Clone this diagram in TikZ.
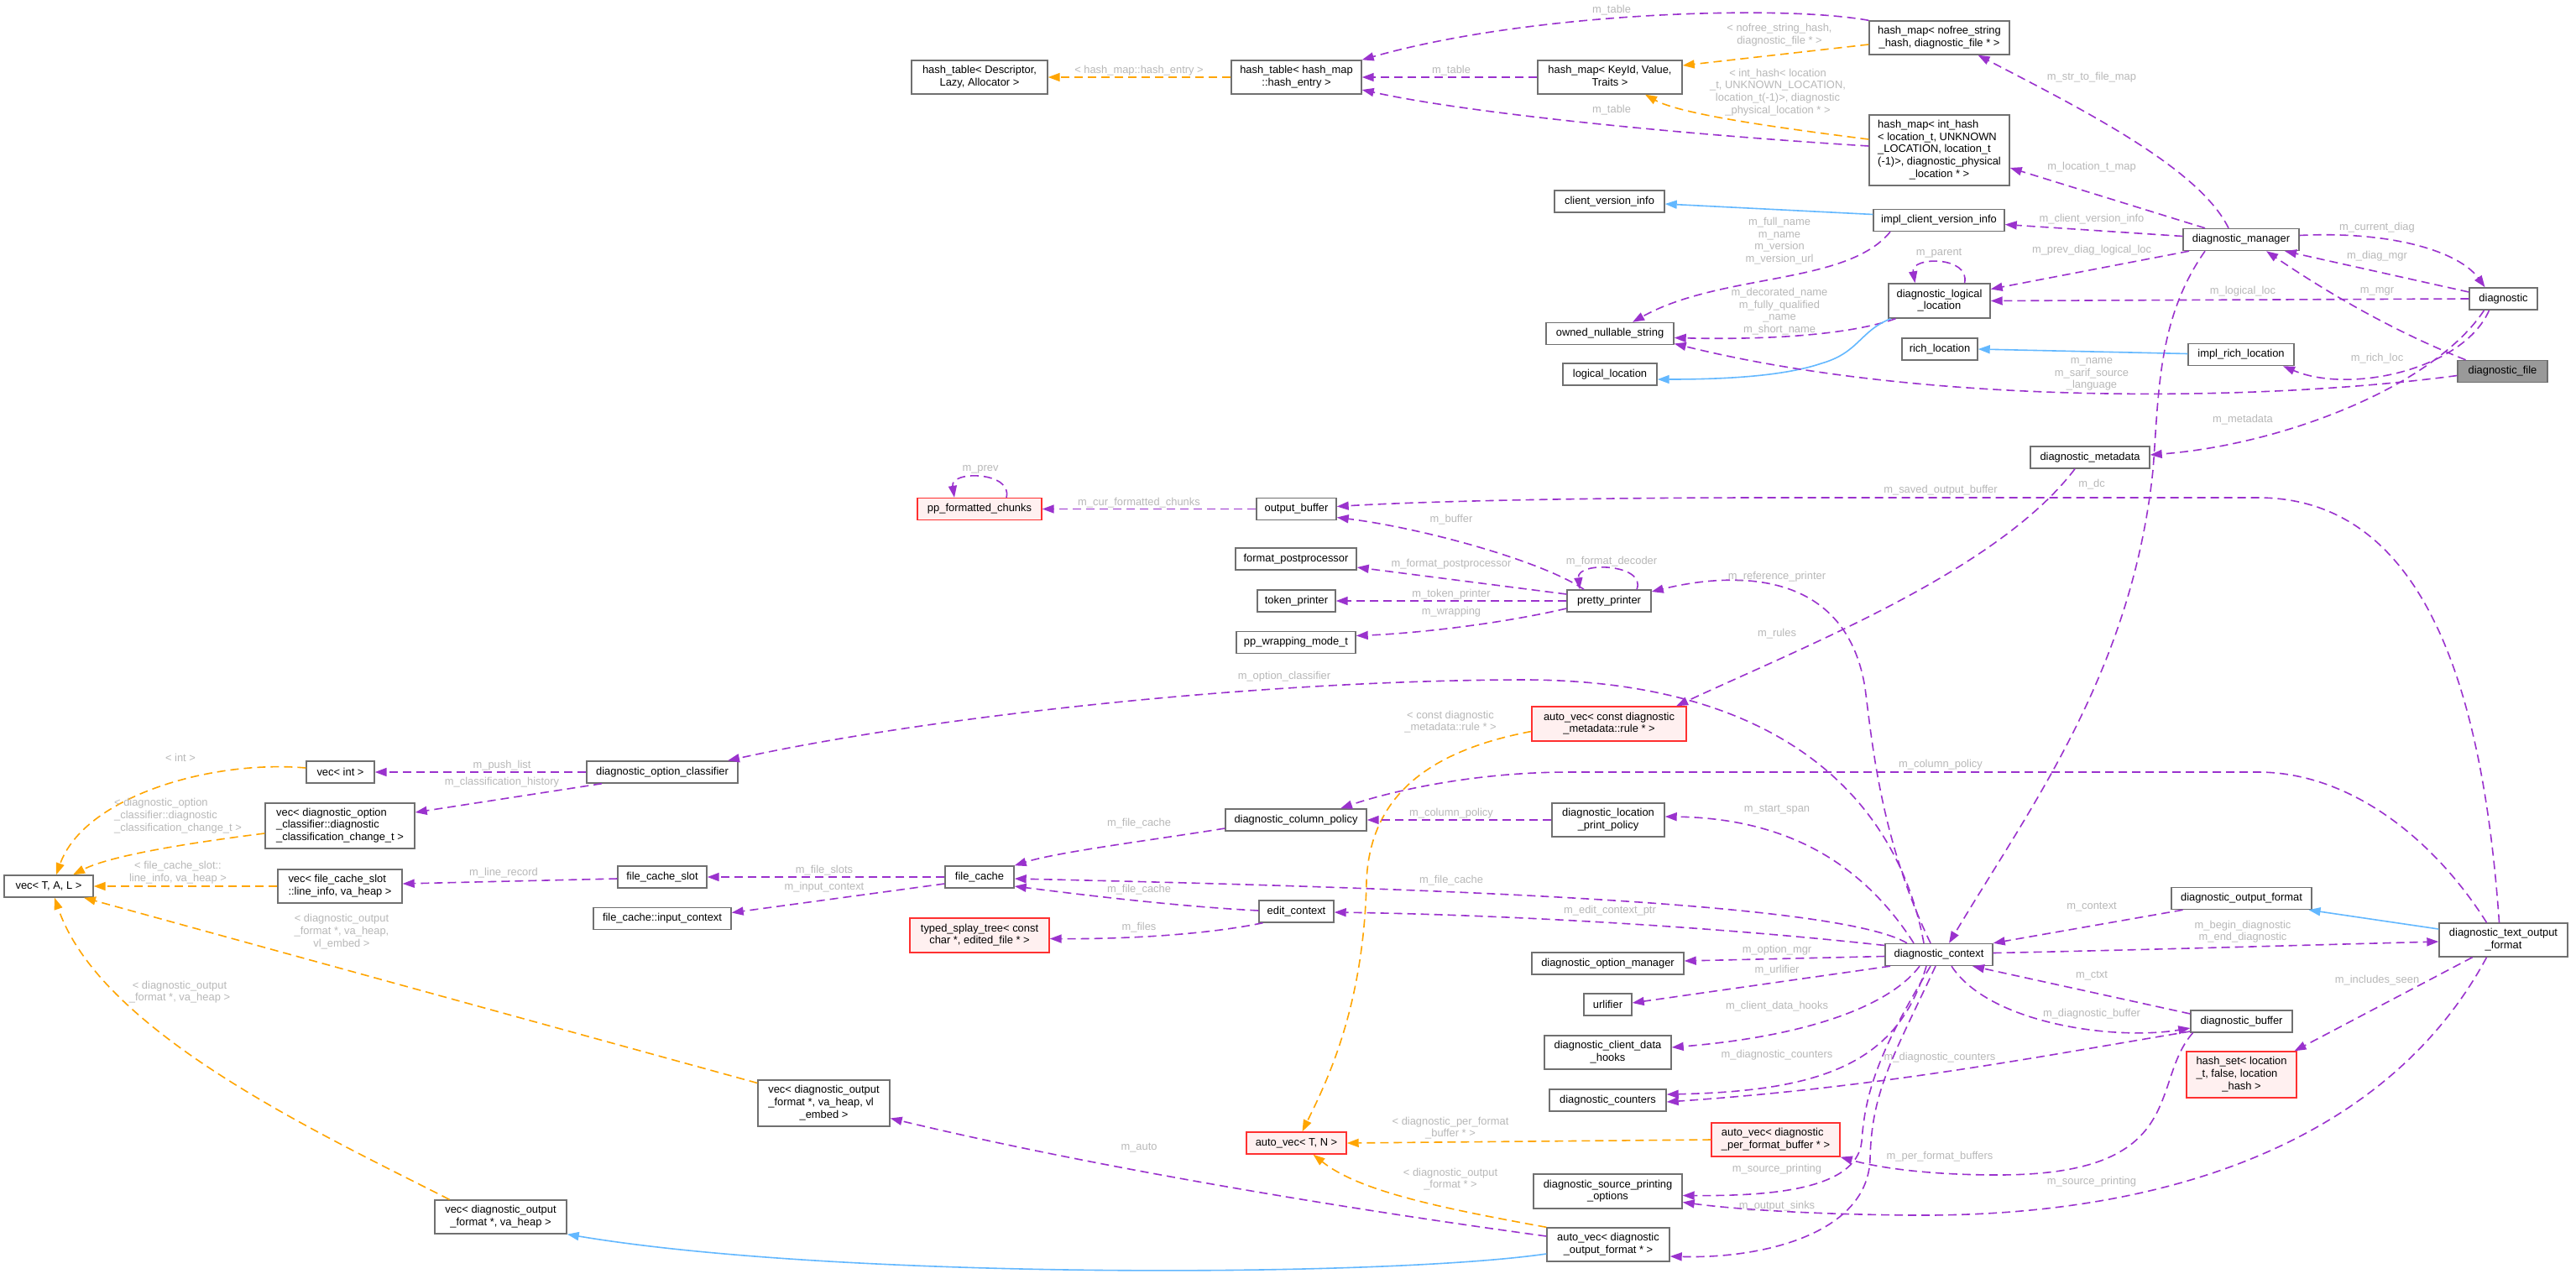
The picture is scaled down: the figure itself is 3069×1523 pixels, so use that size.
\documentclass[tikz,border=0pt]{standalone}
\usepackage{fontspec}
\setmainfont{Liberation Sans}
\usepackage{xcolor}
\usetikzlibrary{arrows.meta}
\definecolor{purp}{HTML}{9A32CD}
\definecolor{orng}{HTML}{FFA500}
\definecolor{inhblue}{HTML}{63B8FF}
\definecolor{labgray}{HTML}{B8B8B8}
\definecolor{nodegray}{HTML}{707070}
\definecolor{nodered}{HTML}{FF3030}
\definecolor{nodepink}{HTML}{FFF0F0}
\definecolor{curgray}{HTML}{999999}
\newcommand\dxfont{\fontsize{12.9}{14.7}\selectfont}
% all lines but the last left aligned, the last one centred
\newcommand\dxtwo[2]{\begin{tabular}{@{}l@{}}#1\\\multicolumn{1}{@{}c@{}}{#2}\end{tabular}}

\begin{document}
\begin{tikzpicture}[x=1pt,y=-1pt,
    cls/.style={draw=nodegray, fill=white, line width=1.4pt, inner sep=0pt, minimum height=26pt, font=\dxfont},
    redcls/.style={cls, draw=nodered, fill=nodepink},
    bw/.style={minimum width=#1pt},
    bh/.style={minimum height=#1pt},
    pe/.style={draw=purp, line width=1.6pt, dash pattern=on 10pt off 6pt, -{Triangle[length=14pt,width=10pt]}},
    oe/.style={pe, draw=orng},
    be/.style={draw=inhblue, line width=1.6pt, -{Triangle[length=14pt,width=10pt]}},
    lbl/.style={font=\dxfont, text=labgray, align=center, inner sep=0pt}]

    \fill[white] (0,0) rectangle (3069,1523);
    \useasboundingbox (0,0) rectangle (3069,1523);

    % Hash tables
    \node[cls, bw=162, bh=40] (htd) at (1167,92) {\dxtwo{hash\_table< Descriptor,}{Lazy, Allocator >}};
    \node[cls, bw=155, bh=40] (hte) at (1544.5,92) {\dxtwo{hash\_table< hash\_map}{::hash\_entry >}};
    \node[cls, bw=172, bh=40] (hmk) at (1918,92) {\dxtwo{hash\_map< KeyId, Value,}{Traits >}};
    \node[cls, bw=167, bh=40] (hmn) at (2310.5,45) {\dxtwo{hash\_map< nofree\_string}{\_hash, diagnostic\_file * >}};
    \node[cls, bw=167, bh=84] (hmi) at (2310.5,179) {\dxtwo{hash\_map< int\_hash\\< location\_t, UNKNOWN\\\_LOCATION, location\_t\\(-1)>, diagnostic\_physical}{\_location * >}};

    % Manager side
    \node[cls, bw=131] (cvi) at (1917.5,240) {client\_version\_info};
    \node[cls, bw=156] (icvi) at (2310,262.5) {impl\_client\_version\_info};
    \node[cls, bw=152] (ons) at (1918,397.5) {owned\_nullable\_string};
    \node[cls, bw=112] (ll) at (1918,446) {logical\_location};
    \node[cls, bw=121, bh=41] (dll) at (2310.5,358.5) {\dxtwo{diagnostic\_logical}{\_location}};
    \node[cls, bw=90] (rl) at (2311,416) {rich\_location};
    \node[cls, bw=138] (dm) at (2670,285.5) {diagnostic\_manager};
    \node[cls, bw=81] (dg) at (2982.5,356) {diagnostic};
    \node[cls, bw=126] (irl) at (2670,422.5) {impl\_rich\_location};
    \node[cls, bw=107, fill=curgray] (df) at (2981.5,442.5) {diagnostic\_file};
    \node[cls, bw=142] (dmeta) at (2490,545) {diagnostic\_metadata};

    % Pretty printer
    \node[redcls, bw=148] (pfc) at (1167,606.5) {pp\_formatted\_chunks};
    \node[cls, bw=95] (ob) at (1544.5,606.5) {output\_buffer};
    \node[cls, bw=144] (fpp) at (1544,666) {format\_postprocessor};
    \node[cls, bw=93] (tp) at (1544.5,716) {token\_printer};
    \node[cls, bw=142] (pwm) at (1544,765.5) {pp\_wrapping\_mode\_t};
    \node[cls, bw=100] (pp) at (1917,716) {pretty\_printer};
    \node[redcls, bw=184, bh=41] (avr) at (1917,862.5) {\dxtwo{auto\_vec< const diagnostic}{\_metadata::rule * >}};

    % Vectors and option classifier
    \node[cls, bw=180] (doc) at (789,920) {diagnostic\_option\_classifier};
    \node[cls, bw=81] (vi) at (405.5,920) {vec< int >};
    \node[cls, bw=178, bh=54] (vdoc) at (405,984) {\dxtwo{vec< diagnostic\_option\\\_classifier::diagnostic}{\_classification\_change\_t >}};
    \node[cls, bw=106] (vtal) at (58,1056) {vec< T, A, L >};

    % File cache
    \node[cls, bw=168] (dcp) at (1544,977) {diagnostic\_column\_policy};
    \node[cls, bw=134, bh=40] (dlpp) at (1916,977) {\dxtwo{diagnostic\_location}{\_print\_policy}};
    \node[cls, bw=148, bh=40] (vfcs) at (405,1056) {\dxtwo{vec< file\_cache\_slot}{::line\_info, va\_heap >}};
    \node[cls, bw=106] (fcs) at (789,1045) {file\_cache\_slot};
    \node[cls, bw=164] (fcic) at (789,1094.5) {file\_cache::input\_context};
    \node[cls, bw=82] (fc) at (1167,1045) {file\_cache};
    \node[redcls, bw=166, bh=41] (tst) at (1167,1114.5) {\dxtwo{typed\_splay\_tree< const}{char *, edited\_file * >}};
    \node[cls, bw=89] (ec) at (1544.5,1086) {edit\_context};

    % Context and its members
    \node[cls, bw=128] (dctx) at (2310,1137.5) {diagnostic\_context};
    \node[cls, bw=167] (dof) at (2670.5,1070.5) {diagnostic\_output\_format};
    \node[cls, bw=153, bh=40] (dtof) at (2982.5,1120) {\dxtwo{diagnostic\_text\_output}{\_format}};
    \node[cls, bw=181] (dom) at (1915.5,1148) {diagnostic\_option\_manager};
    \node[cls, bw=57] (url) at (1915.5,1197) {urlifier};
    \node[cls, bw=151, bh=40] (dcdh) at (1915.5,1254) {\dxtwo{diagnostic\_client\_data}{\_hooks}};
    \node[cls, bw=139] (dcnt) at (1915.5,1311) {diagnostic\_counters};
    \node[redcls, bw=153, bh=40] (avpfb) at (2115.5,1358) {\dxtwo{auto\_vec< diagnostic}{\_per\_format\_buffer * >}};
    \node[cls, bw=177, bh=41] (dspo) at (1915.5,1419.5) {\dxtwo{diagnostic\_source\_printing}{\_options}};
    \node[cls, bw=146, bh=40] (avdof) at (1916,1483) {\dxtwo{auto\_vec< diagnostic}{\_output\_format * >}};
    \node[redcls, bw=119] (avtn) at (1544.5,1362) {auto\_vec< T, N >};
    \node[cls, bw=157, bh=55] (vdofe) at (981.5,1314.5) {\dxtwo{vec< diagnostic\_output\\\_format *, va\_heap, vl}{\_embed >}};
    \node[cls, bw=157, bh=40] (vdofh) at (596.5,1450) {\dxtwo{vec< diagnostic\_output}{\_format *, va\_heap >}};
    \node[cls, bw=121] (db) at (2670.5,1217) {diagnostic\_buffer};
    \node[redcls, bw=131, bh=55] (hs) at (2670.5,1280.5) {\dxtwo{hash\_set< location\\\_t, false, location}{\_hash >}};

    % Hash table links
    \draw[oe] (hte.west) -- (htd.east) node[lbl] (l01) at (1357,84) {< hash\_map::hash\_entry >};
    \draw[pe] (hmk.west) -- (hte.east) node[lbl] (l02) at (1729,84) {m\_table};
    \draw[pe] (hmn.north west) .. controls (2120,5) and (1820,15) .. (hte.north east) node[lbl] (l03) at (1920,12) {m\_table};
    \draw[oe] ([yshift=-8pt]hmn.west) -- ([yshift=14pt]hmk.east) node[lbl] (l04) at (2120,42) {< nofree\_string\_hash,\\diagnostic\_file * >};
    \draw[oe] ([yshift=13pt]hmi.west) .. controls (2100,150) and (2000,135) .. ([xshift=42pt]hmk.south) node[lbl] (l05) at (2118,110) {< int\_hash< location\\\_t, UNKNOWN\_LOCATION,\\location\_t(-1)>, diagnostic\\\_physical\_location * >};
    \draw[pe] ([yshift=5pt]hmi.west) .. controls (2000,160) and (1750,135) .. ([yshift=-15pt]hte.east) node[lbl] (l06) at (1920,131) {m\_table};

    % Names, locations
    \draw[be] ([yshift=7pt]icvi.west) -- ([yshift=-3pt]cvi.east);
    \draw[pe] ([xshift=-58pt]icvi.south) .. controls (2200,340) and (2050,325) .. ([xshift=27pt]ons.north) node[lbl] (l08) at (2120,287) {m\_full\_name\\m\_name\\m\_version\\m\_version\_url};
    \draw[pe] ([xshift=-52pt]dll.south) .. controls (2200,400) and (2100,405) .. ([yshift=-5pt]ons.east) node[lbl] (l09) at (2120,371) {m\_decorated\_name\\m\_fully\_qualified\\\_name\\m\_short\_name};
    \draw[be] ([xshift=-58pt]dll.south) .. controls (2215,395) and (2215,420) .. (2170,433) .. controls (2120,450) and (2040,452) .. ([yshift=-6pt]ll.east);
    \draw[pe] ([xshift=30pt]dll.north) .. controls (2348,305) and (2276,305) .. ([xshift=-29pt]dll.north) node[lbl] (l11) at (2310,302) {m\_parent};
    \draw[pe] ([yshift=-5pt]df.west) .. controls (2700,478) and (2300,485) .. ([yshift=-12pt]ons.east) node[lbl] (l12) at (2492,446) {m\_name\\m\_sarif\_source\\\_language};
    \draw[be] ([yshift=1pt]irl.west) -- (rl.east);

    % Manager and diagnostic
    \draw[pe] ([xshift=-15pt]dm.north) .. controls (2620,200) and (2480,130) .. ([xshift=46pt]hmn.south) node[lbl] (l14) at (2492,92) {m\_str\_to\_file\_map};
    \draw[pe] ([xshift=-43pt]dm.north) -- ([yshift=-21pt]hmi.east) node[lbl] (l15) at (2492,199) {m\_location\_t\_map};
    \draw[pe] ([yshift=4pt]dm.west) -- ([yshift=-5pt]icvi.east) node[lbl] (l16) at (2492,261) {m\_client\_version\_info};
    \draw[pe] ([xshift=-62pt]dm.south) -- ([yshift=14pt]dll.east) node[lbl] (l17) at (2492,298) {m\_prev\_diag\_logical\_loc};
    \draw[pe] ([yshift=5pt]dm.east) .. controls (2850,275) and (2930,300) .. ([xshift=-22pt]dg.north) node[lbl] (l18) at (2832,271) {m\_current\_diag};
    \draw[pe] ([yshift=8pt]dg.west) -- ([xshift=52pt]dm.south) node[lbl] (l19) at (2832,305) {m\_diag\_mgr};
    \draw[pe] (dg.west) -- (dll.east) node[lbl] (l20) at (2672,347) {m\_logical\_loc};
    \draw[pe] ([xshift=-44pt]df.north) .. controls (2840,390) and (2760,340) .. ([xshift=30pt]dm.south) node[lbl] (l21) at (2832,347) {m\_mgr};
    \draw[pe] ([xshift=-17pt]dg.south) .. controls (2935,440) and (2800,470) .. ([xshift=50pt]irl.south) node[lbl] (l22) at (2832,427) {m\_rich\_loc};
    \draw[pe] ([xshift=-23pt]dg.south) .. controls (2900,460) and (2720,530) .. ([yshift=3pt]dmeta.east) node[lbl] (l23) at (2672,500) {m\_metadata};
    \draw[pe] ([xshift=-43pt]dm.south) .. controls (2570,380) and (2572,470) .. (2565,560) .. controls (2540,800) and (2420,960) .. ([xshift=12pt]dctx.north) node[lbl] (l24) at (2492,577) {m\_dc};
    \draw[pe] ([xshift=-18pt]dmeta.south) .. controls (2380,680) and (2150,770) .. ([xshift=80pt]avr.north) node[lbl] (l25) at (2117,755) {m\_rules};

    % Output buffer and pretty printer
    \draw[pe] ([xshift=-5pt]dtof.north) .. controls (2960,850) and (2900,593) .. (2690,593) -- (2100,593) .. controls (1900,593) and (1700,597) .. ([yshift=3pt]ob.east) node[lbl] (l26) at (2312,584) {m\_saved\_output\_buffer};
    \draw[pe] (ob.west) -- (pfc.east) node[lbl] (l27) at (1357,599) {m\_cur\_formatted\_chunks};
    \draw[pe] ([xshift=32pt]pfc.north) .. controls (1207,562) and (1132,560) .. ([xshift=-30pt]pfc.north) node[lbl] (l28) at (1168,559) {m\_prev};
    \draw[pe] ([xshift=-30pt]pp.north) .. controls (1840,670) and (1700,630) .. ([yshift=-10pt]ob.east) node[lbl] (l29) at (1729,619) {m\_buffer};
    \draw[pe] ([xshift=33pt]pp.north) .. controls (1962,672) and (1878,668) .. ([xshift=-35pt]pp.north) node[lbl] (l30) at (1920,669) {m\_format\_decoder};
    \draw[pe] ([yshift=8pt]pp.west) -- ([yshift=-10pt]fpp.east) node[lbl] (l31) at (1729,672) {m\_format\_postprocessor};
    \draw[pe] (pp.west) -- (tp.east) node[lbl] (l32) at (1729,708) {m\_token\_printer};
    \draw[pe] ([yshift=-9pt]pp.west) .. controls (1780,745) and (1680,755) .. ([yshift=8pt]pwm.east) node[lbl] (l33) at (1729,729) {m\_wrapping};

    % Context, upward links
    \draw[pe] ([xshift=-10pt]dctx.north) .. controls (2240,1000) and (2230,880) .. (2222,820) .. controls (2200,680) and (2070,680) .. ([yshift=11pt]pp.east) node[lbl] (l34) at (2117,687) {m\_reference\_printer};
    \draw[pe] ([xshift=-18pt]dctx.north) .. controls (2260,950) and (2120,812) .. (1820,810) .. controls (1500,810) and (1100,855) .. ([xshift=78pt]doc.north) node[lbl] (l35) at (1530,806) {m\_option\_classifier};
    \draw[pe] ([xshift=-30pt]dctx.north) .. controls (2220,1030) and (2130,975) .. ([yshift=4pt]dlpp.east) node[lbl] (l43) at (2117,965) {m\_start\_span};

    % Option classifier and vectors
    \draw[pe] (doc.west) -- (vi.east) node[lbl] (l36) at (598,912) {m\_push\_list};
    \draw[pe] ([xshift=-72pt]doc.south) -- ([yshift=16pt]vdoc.east) node[lbl] (l37) at (598,932) {m\_classification\_history};
    \draw[oe] ([yshift=5pt]vi.west) .. controls (250,905) and (100,950) .. ([xshift=9pt]vtal.north) node[lbl] (l38) at (215,903) {< int >};
    \draw[oe] ([yshift=-9pt]vdoc.west) .. controls (220,1005) and (130,1020) .. ([xshift=29pt]vtal.north) node[lbl, align=left] (l39) at (212,972) {< diagnostic\_option\\\_classifier::diagnostic\\\_classification\_change\_t >};
    \draw[oe] ([yshift=-9pt]avr.west) .. controls (1700,895) and (1632,950) .. (1628,1050) .. controls (1625,1200) and (1580,1290) .. ([xshift=7pt]avtn.north) node[lbl] (l40) at (1728,860) {< const diagnostic\\\_metadata::rule * >};

    % Column policy and file cache
    \draw[pe] ([xshift=-20pt]dtof.north) .. controls (2900,1000) and (2800,920) .. (2690,920) -- (1870,920) .. controls (1750,920) and (1650,945) .. ([xshift=53pt]dcp.north) node[lbl] (l41) at (2312,911) {m\_column\_policy};
    \draw[pe] (dlpp.west) -- (dcp.east) node[lbl] (l42) at (1729,969) {m\_column\_policy};
    \draw[pe] ([yshift=-10pt]dcp.west) .. controls (1380,1000) and (1260,1015) .. (fc.north east) node[lbl] (l44) at (1357,981) {m\_file\_cache};
    \draw[pe] (fc.west) -- (fcs.east) node[lbl] (l45) at (982,1037) {m\_file\_slots};
    \draw[pe] ([yshift=-8pt]fc.west) -- ([yshift=7pt]fcic.east) node[lbl] (l46) at (982,1057) {m\_input\_context};
    \draw[pe] ([yshift=-2pt]fcs.west) -- ([yshift=3pt]vfcs.east) node[lbl] (l47) at (600,1040) {m\_line\_record};
    \draw[oe] (vfcs.west) -- (vtal.east) node[lbl] (l48) at (212,1040) {< file\_cache\_slot::\\line\_info, va\_heap >};
    \draw[pe] ([xshift=-38pt]dctx.north) .. controls (2190,1075) and (1700,1058) .. ([yshift=-2pt]fc.east) node[lbl] (l49) at (1729,1049) {m\_file\_cache};
    \draw[pe] ([yshift=1pt]ec.west) .. controls (1400,1080) and (1280,1065) .. ([yshift=-11pt]fc.east) node[lbl] (l50) at (1357,1060) {m\_file\_cache};
    \draw[pe] ([xshift=-40pt]ec.south) .. controls (1430,1115) and (1330,1119) .. ([yshift=-4pt]tst.east) node[lbl] (l51) at (1357,1105) {m\_files};
    \draw[pe] ([yshift=11pt]dctx.west) .. controls (2050,1105) and (1800,1090) .. ([yshift=-1pt]ec.east) node[lbl] (l52) at (1918,1085) {m\_edit\_context\_ptr};

    % Output formats
    \draw[pe] ([xshift=-70pt]dof.south) -- (dctx.north east) node[lbl] (l53) at (2492,1081) {m\_context};
    \draw[pe] ([yshift=2pt]dctx.east) .. controls (2550,1132) and (2750,1126) .. ([yshift=-2pt]dtof.west) node[lbl] (l54) at (2672,1110) {m\_begin\_diagnostic\\m\_end\_diagnostic};
    \draw[be] ([yshift=13pt]dtof.west) -- ([xshift=80pt]dof.south);
    \draw[pe] ([xshift=-37pt]dtof.south) -- ([xshift=63pt]hs.north) node[lbl] (l63) at (2832,1168) {m\_includes\_seen};

    % Context, downward links
    \draw[pe] ([yshift=-2pt]dctx.west) -- ([yshift=3pt]dom.east) node[lbl] (l56) at (2117,1132) {m\_option\_mgr};
    \draw[pe] ([xshift=-58pt]dctx.south) -- ([yshift=2pt]url.east) node[lbl] (l57) at (2117,1156) {m\_urlifier};
    \draw[pe] ([xshift=-23pt]dctx.south) .. controls (2250,1200) and (2150,1235) .. ([yshift=6pt]dcdh.east) node[lbl] (l58) at (2117,1199) {m\_client\_data\_hooks};
    \draw[pe] ([xshift=-15pt]dctx.south) .. controls (2262,1262) and (2180,1300) .. ([yshift=7pt]dcnt.east) node[lbl] (l59) at (2117,1257) {m\_diagnostic\_counters};
    \draw[pe] ([yshift=-12pt]db.west) .. controls (2450,1255) and (2250,1295) .. ([yshift=-2pt]dcnt.east) node[lbl] (l60) at (2311,1260) {m\_diagnostic\_counters};
    \draw[pe] ([yshift=9pt]db.west) -- ([xshift=40pt]dctx.south) node[lbl] (l61) at (2492,1163) {m\_ctxt};
    \draw[pe] ([xshift=15pt]dctx.south) .. controls (2370,1220) and (2520,1240) .. ([yshift=-8pt]db.west) node[lbl] (l62) at (2492,1208) {m\_diagnostic\_buffer};
    \draw[pe] ([xshift=-58pt]db.south) .. controls (2560,1290) and (2610,1400) .. (2380,1400) .. controls (2300,1400) and (2240,1392) .. (avpfb.south east) node[lbl] (l64) at (2311,1378) {m\_per\_format\_buffers};
    \draw[oe] (avpfb.west) -- (avtn.east) node[lbl] (l65) at (1728,1344) {< diagnostic\_per\_format\\\_buffer * >};
    \draw[pe] ([xshift=-10pt]dctx.south) .. controls (2240,1250) and (2222,1300) .. (2218,1360) .. controls (2212,1420) and (2100,1425) .. ([yshift=-5pt]dspo.east) node[lbl] (l66) at (2117,1393) {m\_source\_printing};
    \draw[pe] ([xshift=-20pt]dtof.south) .. controls (2850,1350) and (2600,1450) .. (2280,1448) .. controls (2150,1447) and (2060,1440) .. ([yshift=-13pt]dspo.east) node[lbl] (l67) at (2492,1408) {m\_source\_printing};
    \draw[pe] ([xshift=-4pt]dctx.south) .. controls (2255,1260) and (2230,1300) .. (2228,1380) .. controls (2226,1470) and (2100,1500) .. ([yshift=-14pt]avdof.east) node[lbl] (l68) at (2117,1437) {m\_output\_sinks};

    % Output format vectors
    \draw[oe] (avdof.north west) .. controls (1720,1440) and (1620,1420) .. ([xshift=20pt]avtn.south) node[lbl] (l69) at (1728,1405) {< diagnostic\_output\\\_format * >};
    \draw[pe] ([yshift=10pt]avdof.west) .. controls (1600,1440) and (1300,1390) .. ([yshift=-18pt]vdofe.east) node[lbl] (l70) at (1357,1368) {m\_auto};
    \draw[be] ([yshift=-11pt]avdof.west) .. controls (1650,1522) and (1000,1525) .. (vdofh.south east);
    \draw[oe] ([yshift=24pt]vdofe.west) -- ([xshift=42pt]vtal.south) node[lbl] (l72) at (407,1110) {< diagnostic\_output\\\_format *, va\_heap,\\vl\_embed >};
    \draw[oe] ([xshift=-61pt]vdofh.north) .. controls (380,1350) and (120,1230) .. ([xshift=7pt]vtal.south) node[lbl] (l73) at (214,1182) {< diagnostic\_output\\\_format *, va\_heap >};

\end{tikzpicture}
\end{document}
